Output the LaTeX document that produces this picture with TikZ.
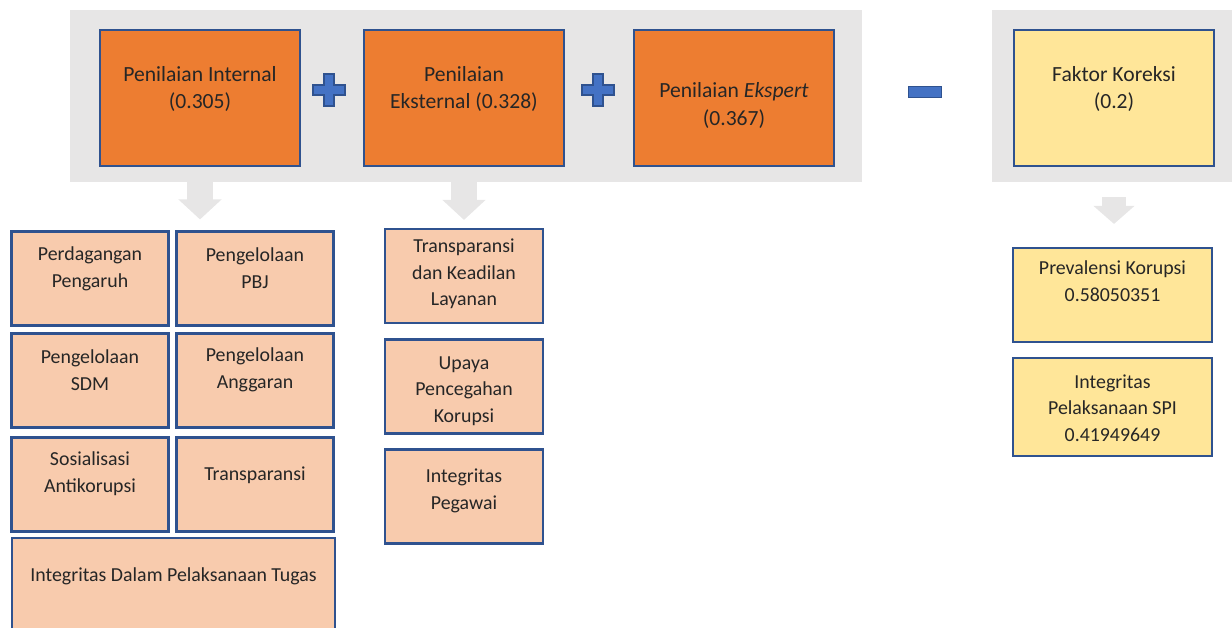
\documentclass[tikz,border=0pt]{standalone}
\usepackage{fontspec}
\setmainfont{Carlito}
\usetikzlibrary{positioning,arrows.meta}
\definecolor{bandgray}{HTML}{E7E6E6}
\definecolor{mainorange}{HTML}{ED7D31}
\definecolor{lightorange}{HTML}{F8CBAD}
\definecolor{lightgold}{HTML}{FFE699}
\definecolor{edgeblue}{HTML}{2F528F}
\definecolor{signblue}{HTML}{4472C4}
\definecolor{txtdark}{HTML}{262626}
\tikzset{
  band/.style={fill=bandgray, draw=none, inner sep=0pt, minimum height=3.44cm},
  mainbox/.style={draw=edgeblue, line width=1.1pt, fill=mainorange, minimum width=4.0cm, minimum height=2.72cm, inner sep=0pt},
  corrbox/.style={mainbox, fill=lightgold},
  subbox/.style={draw=edgeblue, line width=1.2pt, fill=lightorange, minimum width=3.14cm, minimum height=1.88cm, inner sep=0pt},
  factorbox/.style={subbox, fill=lightgold, minimum width=3.98cm},
  maintxt/.style={align=center, text=txtdark, font=\fontsize{12.3}{15.6}\selectfont, inner sep=0pt},
  subtxt/.style={align=center, text=txtdark, font=\fontsize{11.3}{15.2}\selectfont, inner sep=0pt},
  downarrow/.style={draw=bandgray, line width=0.52cm, -{Triangle[width=0.84cm, length=0.40cm]}},
  signshape/.style={fill=signblue, draw=edgeblue, line width=0.6pt},
  minusbox/.style={signshape, minimum width=0.66cm, minimum height=0.22cm, inner sep=0pt},
  plussign/.pic={
    \filldraw[signshape] (-0.1,0.32) -- (0.1,0.32) -- (0.1,0.1) -- (0.32,0.1) -- (0.32,-0.1) -- (0.1,-0.1)
      -- (0.1,-0.32) -- (-0.1,-0.32) -- (-0.1,-0.1) -- (-0.32,-0.1) -- (-0.32,0.1) -- (-0.1,0.1) -- cycle;
  }
}

\begin{document}
\begin{tikzpicture}
  \useasboundingbox (0,0) rectangle (24.64,-12.56);
  \clip (0,0) rectangle (24.64,-12.56);

  % grey bands behind the top row
  \node[band, minimum width=15.84cm] (bandL) at (9.32,-1.92) {};
  \node[band, minimum width=4.96cm] (bandR) at (22.32,-1.92) {};

  % top row
  \node[mainbox] (intern) at (4.00,-1.96) {};
  \node[mainbox] (ekstern) at (9.28,-1.96) {};
  \node[mainbox] (ekspert) at (14.68,-1.96) {};
  \node[corrbox] (faktor) at (22.28,-1.96) {};
  \node[maintxt] (intern-t) at ([yshift=0.18cm]intern.center) {Penilaian Internal\\(0.305)};
  \node[maintxt] (ekstern-t) at ([yshift=0.18cm]ekstern.center) {Penilaian\\Eksternal (0.328)};
  \node[maintxt] (ekspert-t) at ([yshift=-0.15cm]ekspert.center) {Penilaian \textit{Ekspert}\\(0.367)};
  \node[maintxt] (faktor-t) at ([yshift=0.18cm]faktor.center) {Faktor Koreksi\\(0.2)};

  \pic at (6.58,-1.80) {plussign};
  \pic at (11.96,-1.80) {plussign};
  \node[minusbox] (minus) at (18.50,-1.84) {};

  % internal indicators
  \node[subbox] (perd) at (1.80,-5.57) {};
  \node[subbox] (pbj) at (5.10,-5.57) {};
  \node[subbox] (sdm) at (1.80,-7.61) {};
  \node[subbox] (angg) at (5.10,-7.61) {};
  \node[subbox] (sosial) at (1.80,-9.69) {};
  \node[subbox] (transp) at (5.10,-9.69) {};
  \node[subbox, minimum width=6.46cm, minimum height=2.2cm] (dalam) at (3.47,-11.86) {};
  \node[subtxt] (perd-t) at ([yshift=0.19cm]perd.center) {Perdagangan\\Pengaruh};
  \node[subtxt] (pbj-t) at ([yshift=0.21cm]pbj.center) {Pengelolaan\\PBJ};
  \node[subtxt] (sdm-t) at ([yshift=0.21cm]sdm.center) {Pengelolaan\\SDM};
  \node[subtxt] (angg-t) at ([yshift=0.21cm]angg.center) {Pengelolaan\\Anggaran};
  \node[subtxt] (sosial-t) at ([yshift=0.21cm]sosial.center) {Sosialisasi\\Antikorupsi};
  \node[subtxt] (transp-t) at ([yshift=0.19cm]transp.center) {Transparansi};
  \node[subtxt] (dalam-t) at ([yshift=-0.78cm]dalam.north) {Integritas Dalam Pelaksanaan Tugas};

  % external indicators
  \node[subbox, minimum width=3.16cm] (tkl) at (9.28,-5.52) {};
  \node[subbox, minimum width=3.16cm] (upaya) at (9.28,-7.73) {};
  \node[subbox, minimum width=3.16cm] (pegawai) at (9.28,-9.93) {};
  \node[subtxt] (tkl-t) at ([yshift=0.04cm]tkl.center) {Transparansi\\dan Keadilan\\Layanan};
  \node[subtxt] (upaya-t) at ([yshift=-0.09cm]upaya.center) {Upaya\\Pencegahan\\Korupsi};
  \node[subtxt] (pegawai-t) at ([yshift=0.11cm]pegawai.center) {Integritas\\Pegawai};

  % correction factor
  \node[factorbox] (preval) at (22.25,-5.90) {};
  \node[factorbox, minimum height=1.96cm] (spi) at (22.25,-8.14) {};
  \node[subtxt] (preval-t) at ([yshift=0.28cm]preval.center) {Prevalensi Korupsi\\0.58050351};
  \node[subtxt] (spi-t) at ([yshift=-0.02cm]spi.center) {Integritas\\Pelaksanaan SPI\\0.41949649};

  % block arrows
  \draw[downarrow, shorten <=-0.1cm, shorten >=0.22cm] (intern.south |- bandL.south) -- (intern.south |- pbj.north);
  \draw[downarrow, shorten <=-0.1cm, shorten >=0.16cm] (ekstern.south |- bandL.south) -- (ekstern.south |- tkl.north);
  \draw[downarrow, line width=0.48cm, -{Triangle[width=0.80cm, length=0.36cm]}, shorten <=0.6cm, shorten >=0.46cm] (faktor.south) -- (faktor.south |- preval.north);
\end{tikzpicture}
\end{document}
